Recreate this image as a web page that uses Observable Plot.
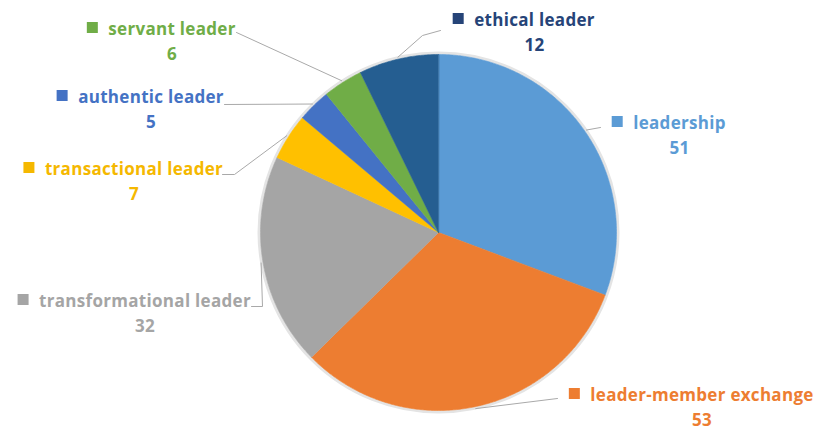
<!DOCTYPE html>
<html><head><meta charset="utf-8">
<script src="https://cdn.jsdelivr.net/npm/d3@7"></script>
<script src="https://cdn.jsdelivr.net/npm/@observablehq/plot@0.6"></script>
<style>body{margin:0;background:#fff;overflow:hidden} svg text{letter-spacing:0.3px}</style>
</head><body><div id="chart"></div>
<script>
// ---- data ----
const categories = ["leadership", "leader-member exchange", "transformational leader", "transactional leader", "authentic leader", "servant leader", "ethical leader"];
const counts = [51, 53, 32, 7, 5, 6, 12];

// ---- styles ----
const sliceColors = ["#5B9BD5", "#ED7D31", "#A5A5A5", "#FFC000", "#4472C4", "#70AD47", "#255E91"];
const labelColors = ["#5B9BD5", "#ED7D31", "#A5A5A5", "#F5B800", "#4472C4", "#70AD47", "#264478"];
const FONT = "'Open Sans', sans-serif", FS = 17, LS = 0.3;

// ---- layout (pixels) ----
const W = 829, H = 441, CX = 438, CY = 232, R = 178;
const labelCenters = [[679, 128], [701.5, 400], [144.5, 306], [133.5, 174], [150.5, 102], [171.5, 34], [534, 25]];
const leaderElbows = [[[600, 127]], [[557, 398]], [[262, 306], [251, 306]], [[234, 174], [222, 174]], [[224, 104]], [[236, 32]], [[422, 35], [440, 30]]];
const VALUE_DY = 25.5, SQ = 11, GAP = 10;

// ---- geometry from data ----
const arcs = d3.pie().sort(null)(counts);
const polar = (a, r) => ({x: CX + r * Math.sin(a), y: CY - r * Math.cos(a)});

const ctx = document.createElement("canvas").getContext("2d");
ctx.font = `bold ${FS}px ${FONT}`;

const labels = categories.map((name, i) => {
  const [cx, by] = labelCenters[i];
  const w = ctx.measureText(name).width + LS * name.length;
  return {name, value: String(counts[i]), cx, by, w, color: labelColors[i]};
});

const marks = [
  Plot.dot([{x: CX, y: CY}], {x: "x", y: "y", r: R + 1.5, fill: "none", stroke: "#e4e4e4", strokeWidth: 3})
];
arcs.forEach((a, i) => {
  const n = Math.max(2, Math.ceil((a.endAngle - a.startAngle) / (Math.PI / 360)));
  const pts = [{x: CX, y: CY}];
  for (let k = 0; k <= n; k++) pts.push(polar(a.startAngle + (a.endAngle - a.startAngle) * k / n, R));
  marks.push(Plot.line(pts, {x: "x", y: "y", fill: sliceColors[i], stroke: sliceColors[i], strokeWidth: 0.6, curve: "linear-closed"}));
});

arcs.forEach((a, i) => {
  const mid = (a.startAngle + a.endAngle) / 2;
  const pts = [polar(mid, R + 2), ...leaderElbows[i].map(([x, y]) => ({x, y}))];
  marks.push(Plot.line(pts, {x: "x", y: "y", stroke: "#a9a9a9", strokeWidth: 1}));
});

marks.push(
  Plot.rect(labels, {x1: d => d.cx - d.w / 2 - GAP - SQ, x2: d => d.cx - d.w / 2 - GAP, y1: d => d.by - 12, y2: d => d.by - 12 + SQ, fill: "color"}),
  Plot.text(labels, {x: "cx", y: "by", text: "name", fill: "color", fontSize: FS, fontWeight: "bold", fontFamily: FONT, textAnchor: "middle", lineAnchor: "bottom"}),
  Plot.text(labels, {x: "cx", y: d => d.by + VALUE_DY, text: "value", fill: "color", fontSize: FS, fontWeight: "bold", fontFamily: FONT, textAnchor: "middle", lineAnchor: "bottom"})
);

const chart = Plot.plot({
  width: W, height: H,
  margin: 0,
  x: {type: "identity", axis: null},
  y: {type: "identity", axis: null},
  color: {type: "identity"},
  style: {background: "#fff", fontFamily: FONT},
  marks
});
document.getElementById("chart").appendChild(chart);
</script>
</body></html>
